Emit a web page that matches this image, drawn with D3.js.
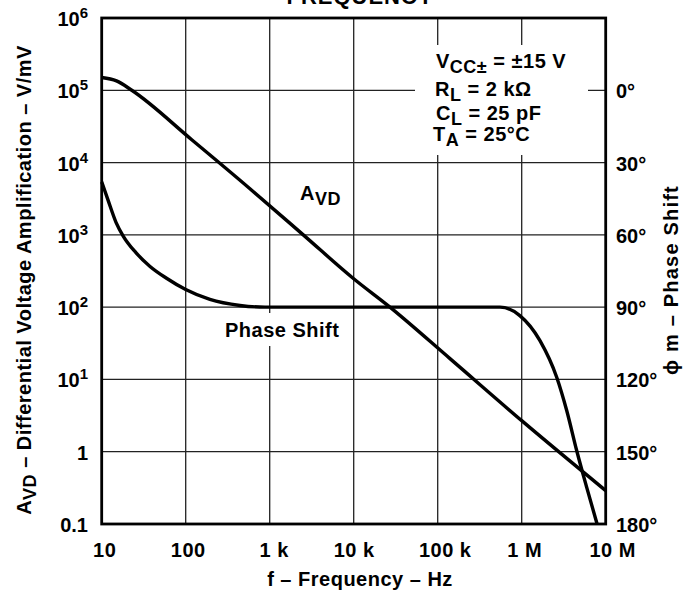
<!DOCTYPE html>
<html><head><meta charset="utf-8">
<script src="https://cdn.jsdelivr.net/npm/d3@7"></script>
<style>
body{margin:0;background:#fff}
svg{display:block}
text{font-family:"Liberation Sans",Arial,sans-serif;font-weight:bold;fill:#000}
</style>
</head><body>
<svg id="c" width="685" height="593"></svg>
<script>
// ---- data ----
const freqTicks = [10, 100, 1e3, 1e4, 1e5, 1e6, 1e7];
const freqLabels = ["10", "100", "1 k", "10 k", "100 k", "1 M", "10 M"];
const gainTicks = [1e6, 1e5, 1e4, 1e3, 1e2, 1e1, 1, 0.1];
const gainBase = ["10", "10", "10", "10", "10", "10", "1", "0.1"];
const gainExp = ["6", "5", "4", "3", "2", "1", "", ""];
const phaseTicks = [0, 30, 60, 90, 120, 150, 180];
const phaseLabels = ["0°", "30°", "60°", "90°", "120°", "150°", "180°"];

const avdFreq = [10, 15, 22.8, 118, 582, 2510, 10000, 27000, 140000, 1e6, 1e7];
const avdGain = [1.5e5, 1.35e5, 1e5, 2.07e4, 4.35e3, 1e3, 247, 100, 19.4, 2.69, 0.29];

const phaseFreq = [10, 11.9, 14.8, 18.1, 25.4, 37.6, 59.8, 100, 194, 443, 880, 1e4, 1e5, 5.52e5, 9.5e5, 1.65e6, 2.61e6, 3.44e6, 4.52e6, 5.94e6, 7.9e6];
const phaseDeg  = [38, 45.6, 54.8, 60.6, 67.3, 73.1, 78.1, 82.7, 86.8, 89.3, 90, 90, 90, 90, 93.5, 103.9, 119.1, 133, 149.6, 164.8, 180];

// ---- layout ----
const L = 101.7, R = 605.7, T = 18, B = 524;
const svg = d3.select("#c");
const x = d3.scaleLog().domain([10, 1e7]).range([L, R]);
const yA = d3.scaleLog().domain([0.1, 1e6]).range([B, T]);
const yP = d3.scaleLinear().domain([-30, 180]).range([T, B]);

// grid
const g = svg.append("g").attr("stroke", "#222").attr("stroke-width", 1.3);
g.selectAll("line.v").data(freqTicks.slice(1, -1)).join("line")
  .attr("x1", d => x(d)).attr("x2", d => x(d)).attr("y1", T).attr("y2", B);
g.selectAll("line.h").data(gainTicks.slice(1, -1)).join("line")
  .attr("x1", L).attr("x2", R).attr("y1", d => yA(d)).attr("y2", d => yA(d));

// white label backgrounds
svg.append("rect").attr("x", 415).attr("y", 45).attr("width", 173).attr("height", 110).attr("fill", "#fff");
svg.append("rect").attr("x", 220).attr("y", 313).attr("width", 124).attr("height", 33).attr("fill", "#fff");
svg.append("rect").attr("x", 296).attr("y", 180).attr("width", 52).attr("height", 30).attr("fill", "#fff");

// curves
const lineA = d3.line().x(d => x(d[0])).y(d => yA(d[1])).curve(d3.curveMonotoneX);
const lineP = d3.line().x(d => x(d[0])).y(d => yP(d[1])).curve(d3.curveMonotoneX);
svg.append("path").datum(d3.zip(avdFreq, avdGain)).attr("d", lineA)
  .attr("fill", "none").attr("stroke", "#000").attr("stroke-width", 3.4);
svg.append("path").datum(d3.zip(phaseFreq, phaseDeg)).attr("d", lineP)
  .attr("fill", "none").attr("stroke", "#000").attr("stroke-width", 3.4);

// frame
svg.append("rect").attr("x", L).attr("y", T).attr("width", R - L).attr("height", B - T)
  .attr("fill", "none").attr("stroke", "#000").attr("stroke-width", 2.8);

const FS = 20, LS = 0.5;

// bottom axis
const xa = svg.append("g").attr("transform", `translate(0,${B})`)
  .call(d3.axisBottom(x).tickValues(freqTicks).tickFormat((d, i) => freqLabels[i]).tickSize(0).tickPadding(0));
xa.select(".domain").remove();
xa.selectAll("text").attr("font-size", FS).attr("letter-spacing", LS).attr("font-family", null).attr("dy", null).attr("y", 33)
  .attr("x", (d, i) => [2.5, 2, 4, 0, 7, 2.5, 6.5][i]);

// left axis
const ya = svg.append("g").attr("transform", `translate(88,0)`);
const lt = ya.selectAll("text").data(gainTicks).join("text")
  .attr("x", 0).attr("y", d => yA(d) + 8).attr("text-anchor", "end").attr("font-size", FS);
lt.append("tspan").text((d, i) => gainBase[i]);
lt.append("tspan").attr("font-size", 15).attr("dy", -8).text((d, i) => gainExp[i]);

// right axis
svg.append("g").selectAll("text").data(phaseTicks).join("text")
  .attr("x", 616).attr("y", d => yP(d) + 8).attr("font-size", FS)
  .text((d, i) => phaseLabels[i]);

// axis titles
svg.append("text").attr("x", 360).attr("y", 586).attr("text-anchor", "middle").attr("font-size", FS)
  .attr("letter-spacing", LS).text("f – Frequency – Hz");
const lt2 = svg.append("text").attr("transform", "translate(31,280) rotate(-90)")
  .attr("text-anchor", "middle").attr("font-size", FS).attr("letter-spacing", LS);
lt2.append("tspan").text("A");
lt2.append("tspan").attr("dy", 5).attr("font-size", 18).text("VD");
lt2.append("tspan").attr("dy", -5).text(" – Differential Voltage Amplification – V/mV");
svg.append("text").attr("transform", "translate(678,280) rotate(-90)")
  .attr("text-anchor", "middle").attr("font-size", FS).attr("letter-spacing", 1.2).text("ϕ m – Phase Shift");

// title (cut off at top)
svg.append("text").attr("x", 360).attr("y", 4).attr("text-anchor", "middle").attr("font-size", 22)
  .attr("letter-spacing", 1).text("FREQUENCY");

// annotations
function sub(main, s, rest, xx, yy) {
  const t = svg.append("text").attr("x", xx).attr("y", yy).attr("font-size", FS).attr("letter-spacing", LS);
  t.append("tspan").text(main);
  t.append("tspan").attr("dy", 5).attr("font-size", 18).text(s);
  t.append("tspan").attr("dy", -5).text(rest);
  return t;
}
sub("V", "CC±", " = ±15 V", 436, 68);
sub("R", "L", " = 2 kΩ", 435, 96);
sub("C", "L", " = 25 pF", 436, 120);
sub("T", "A", " = 25°C", 433, 141);
sub("A", "VD", "", 300, 200);
svg.append("text").attr("x", 225).attr("y", 337).attr("font-size", FS).attr("letter-spacing", LS).text("Phase Shift");
</script>
</body></html>
